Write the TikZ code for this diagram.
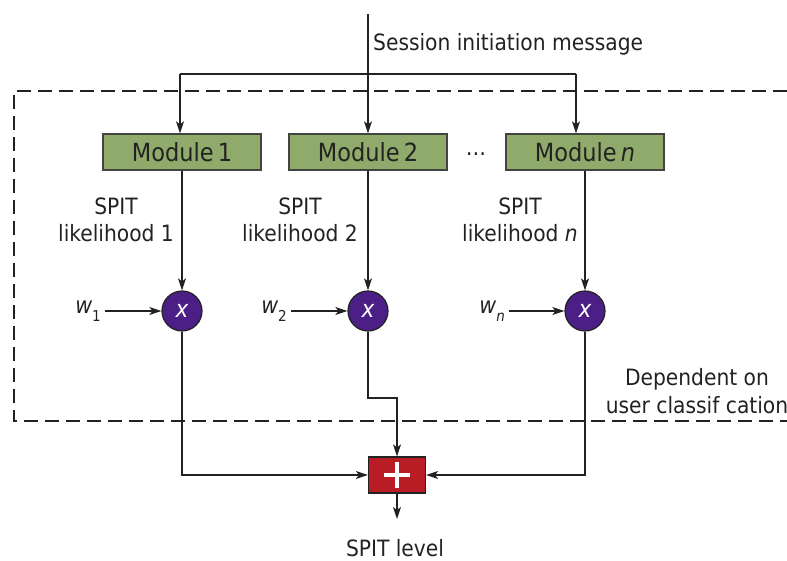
\documentclass[tikz,border=0pt]{standalone}
\usepackage{fontspec}
\setmainfont{DejaVu Sans Condensed}
\usetikzlibrary{arrows.meta}
\definecolor{modgreen}{HTML}{8FAA6A}
\definecolor{mulpurple}{HTML}{4B1F86}
\definecolor{sumred}{HTML}{B81C24}
\definecolor{ink}{HTML}{222222}
\tikzset{
  every node/.style={font=\fontsize{22.5}{27.5}\selectfont, text=ink},
  modbox/.style={draw=ink!85, line width=1.3pt, fill=modgreen, minimum width=158pt, minimum height=36pt, inner sep=0pt, font=\fontsize{25}{27}\selectfont},
  mulnode/.style={circle, draw=ink, line width=1.2pt, fill=mulpurple, minimum size=40pt, inner sep=0pt, text=white, font=\fontsize{24}{24}\selectfont\itshape},
  sumbox/.style={draw=ink, line width=1.2pt, fill=sumred, minimum width=57pt, minimum height=36pt, inner sep=0pt},
  wire/.style={draw=ink, line width=1.2pt},
  arr/.style={wire, -{Stealth[length=12pt,width=8pt,inset=3pt]}},
  boundary/.style={draw=ink, line width=1.1pt, dash pattern=on 14pt off 7pt},
  lbl/.style={align=center, inner sep=0pt},
  wlbl/.style={anchor=base east, inner sep=0pt, font=\fontsize{23}{24}\selectfont\itshape}
}
\newcommand{\wsub}[1]{\raisebox{-9pt}{\fontsize{15}{16}\selectfont #1}}
\begin{document}
\begin{tikzpicture}[x=1pt,y=-1pt]
\useasboundingbox (0,0) rectangle (787,561);

% region of user-dependent processing
\draw[boundary] (787,91) -- (14,91) -- (14,421) -- (787,421);

% modules
\node[modbox] (m1) at (182,152) {Module\,1};
\node[modbox] (m2) at (368,152) {Module\,2};
\node[modbox] (mn) at (585,152) {Module\,\textit{n}};
\node (dots) at (476,154) {\dots};

% incoming message and its distribution
\coordinate (src) at (368,14);
\coordinate (j1) at (180,74);
\coordinate (jn) at (576,74);
\node[anchor=west, inner sep=0pt] (msg) at (373,44) {Session initiation message};
\draw[arr] (src) -- (m2.north);
\draw[wire] (j1) -- (jn);
\draw[arr] (j1) -- (j1 |- m1.north);
\draw[arr] (jn) -- (jn |- mn.north);

% weighting nodes
\node[mulnode] (c1) at (182,311) {x};
\node[mulnode] (c2) at (368,311) {x};
\node[mulnode] (cn) at (585,311) {x};

\draw[arr] (m1) -- (c1);
\draw[arr] (m2) -- (c2);
\draw[arr] (mn) -- (cn);

\node[lbl] (l1) at (116,220) {SPIT\\likelihood 1};
\node[lbl] (l2) at (300,220) {SPIT\\likelihood 2};
\node[lbl] (ln) at (520,220) {SPIT\\likelihood \textit{n}};

% weights
\node[wlbl] (w1) at (101,313) {w\wsub{\upshape 1}};
\node[wlbl] (w2) at (287,313) {w\wsub{\upshape 2}};
\node[wlbl] (wn) at (505,313) {w\wsub{n}};
\draw[arr] (105,311) -- (c1.west);
\draw[arr] (291,311) -- (c2.west);
\draw[arr] (509,311) -- (cn.west);

% summation
\node[sumbox] (sum) at (397,475) {};
\draw[white, line width=3.5pt] ([xshift=-13pt]sum.center) -- ([xshift=13pt]sum.center)
  ([yshift=-13pt]sum.center) -- ([yshift=13pt]sum.center);
\coordinate (bend) at (368,398);
\draw[arr] (c2.south) -- (bend) -| (sum.north);
\draw[arr] (c1.south) |- (sum.west);
\draw[arr] (cn.south) |- (sum.east);

\coordinate (out) at (397,519);
\draw[arr] (sum.south) -- (out);
\node[anchor=base, inner sep=0pt] (lvl) at (395,556) {SPIT level};

\node[lbl] (dep) at (697,391) {Dependent on\\user classif cation};
\end{tikzpicture}
\end{document}
